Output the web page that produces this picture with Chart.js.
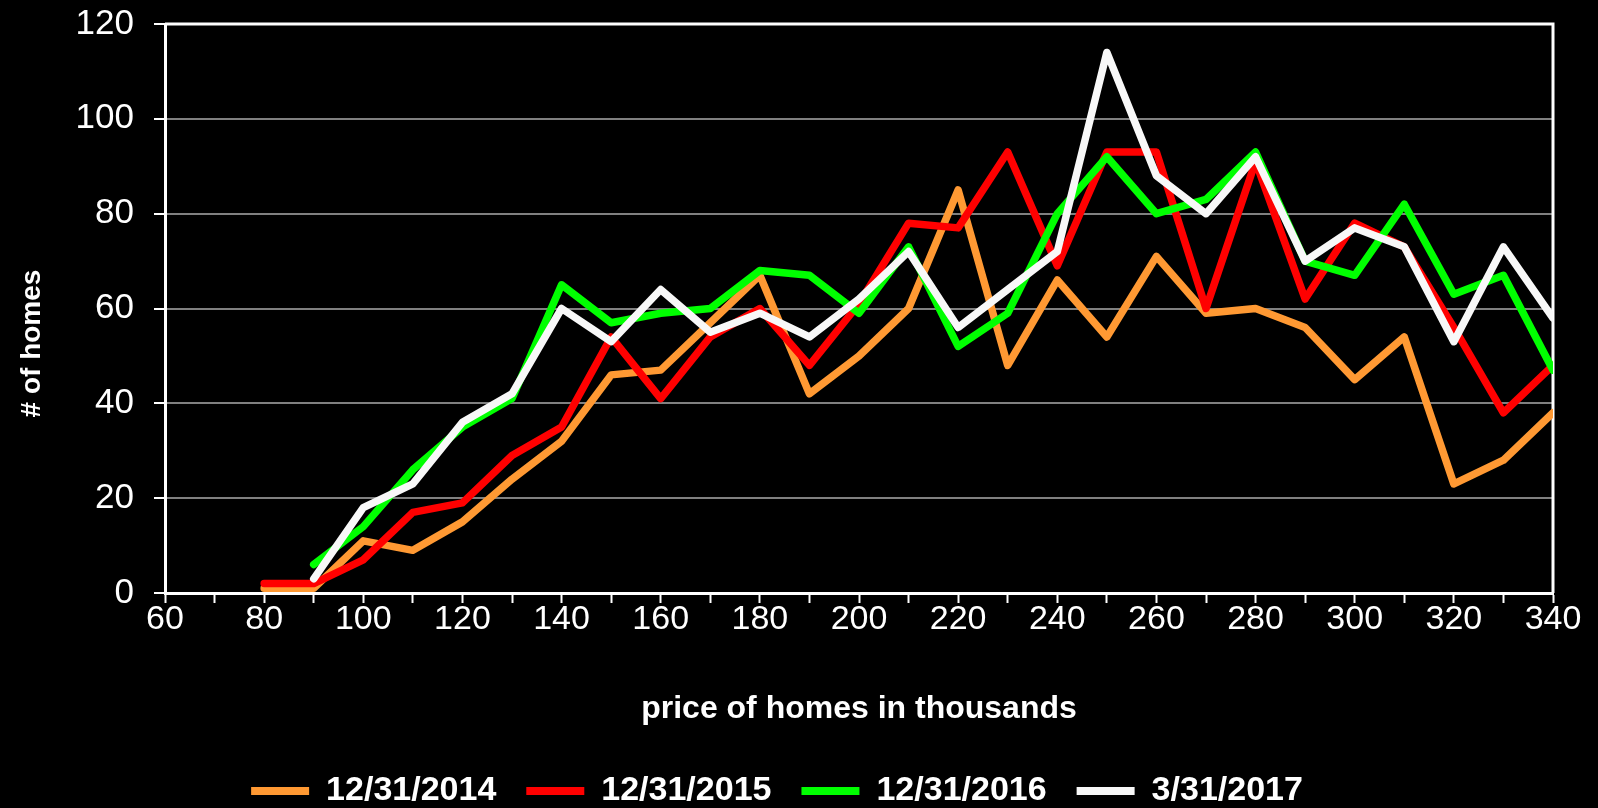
<!DOCTYPE html>
<html>
<head>
<meta charset="utf-8">
<script src="https://cdn.jsdelivr.net/npm/chart.js@4.4.0/dist/chart.umd.min.js"></script>
<style>
  html, body { margin: 0; padding: 0; background: #000; }
  #wrap { width: 1598px; height: 808px; }
</style>
</head>
<body>
<div id="wrap"><canvas id="homes-chart"></canvas></div>
<script>
// price of homes (thousands)
const prices = [80, 90, 100, 110, 120, 130, 140, 150, 160, 170, 180, 190, 200, 210,
                220, 230, 240, 250, 260, 270, 280, 290, 300, 310, 320, 330, 340]

// # of homes at each price, per snapshot date
const homes_2014 = [1, 1, 11, 9, 15, 24, 32, 46, 47, 57, 67, 42, 50, 60,
                    85, 48, 66, 54, 71, 59, 60, 56, 45, 54, 23, 28, 38]
const homes_2015 = [2, 2, 7, 17, 19, 29, 35, 54, 41, 54, 60, 48, 61, 78,
                    77, 93, 69, 93, 93, 60, 91, 62, 78, 73, 56, 38, 48]
const homes_2016 = [null, 6, 14, 26, 35, 41, 65, 57, 59, 60, 68, 67, 59, 73,
                    52, 59, 80, 92, 80, 83, 93, 70, 67, 82, 63, 67, 47]
const homes_2017 = [null, 3, 18, 23, 36, 42, 60, 53, 64, 55, 59, 54, 62, 72,
                    56, 64, 72, 114, 88, 80, 92, 70, 77, 73, 53, 73, 58]

const series_names = ['12/31/2014', '12/31/2015', '12/31/2016', '3/31/2017']
const series_colors = ['#FF9933', '#FF0000', '#00FF00', '#F8F8F8']
const series_values = [homes_2014, homes_2015, homes_2016, homes_2017]

const font_family = "'Liberation Sans', Arial, sans-serif"

const toPoints = (values) => prices.map((p, i) => ({ x: p, y: values[i] }))

// white top + right border of the plot area
const framePlugin = {
    id: 'frame',
    beforeDatasetsDraw(chart) {
        const { ctx, chartArea } = chart
        ctx.save()
        ctx.strokeStyle = '#ffffff'
        ctx.lineWidth = 3
        ctx.beginPath()
        ctx.moveTo(chartArea.left, chartArea.top)
        ctx.lineTo(chartArea.right, chartArea.top)
        ctx.lineTo(chartArea.right, chartArea.bottom)
        ctx.stroke()
        ctx.restore()
    }
}

const ctx = document.getElementById('homes-chart');
new Chart(ctx, {
    type: 'line',
    data: {
        datasets: series_names.map((name, i) => ({
            label: name,
            data: toPoints(series_values[i]),
            borderColor: series_colors[i],
            backgroundColor: series_colors[i],
            borderWidth: 7.5,
            pointRadius: 0,
            tension: 0,
            borderJoinStyle: 'round',
            borderCapStyle: 'round',
            order: series_names.length - 1 - i
        }))
    },
    options: {
        responsive: true,
        maintainAspectRatio: false,
        animation: false,
        devicePixelRatio: 1,
        layout: {
            padding: { left: 1, right: 45, top: 24, bottom: -10 }
        },
        plugins: {
            tooltip: { enabled: false },
            legend: {
                position: 'bottom',
                labels: {
                    color: '#ffffff',
                    font: { family: font_family, size: 34, weight: 'bold' },
                    boxWidth: 58,
                    boxHeight: 8,
                    padding: 30,
                    generateLabels: (chart) =>
                        Chart.defaults.plugins.legend.labels.generateLabels(chart)
                            .map(l => ({ ...l, lineWidth: 0 }))
                            .sort((a, b) => a.datasetIndex - b.datasetIndex)
                }
            }
        },
        scales: {
            x: {
                type: 'linear',
                min: 60,
                max: 340,
                afterFit: (scale) => { scale.height = 151 },
                ticks: {
                    stepSize: 10,
                    autoSkip: false,
                    maxRotation: 0,
                    padding: -4,
                    color: '#ffffff',
                    font: { family: font_family, size: 34 },
                    callback: (v) => (v % 20 === 0 ? v : '')
                },
                grid: {
                    drawOnChartArea: false,
                    tickLength: 10,
                    tickColor: '#ffffff',
                    tickWidth: 2,
                    color: '#ffffff'
                },
                border: { color: '#ffffff', width: 3 },
                title: {
                    display: true,
                    text: 'price of homes in thousands',
                    color: '#ffffff',
                    font: { family: font_family, size: 32, weight: 'bold' },
                    padding: { top: 0, bottom: 16 }
                }
            },
            y: {
                min: 0,
                max: 120,
                afterFit: (scale) => {
                    scale.width = 164
                    scale.paddingTop = 0
                    scale.paddingBottom = 0
                },
                ticks: {
                    stepSize: 20,
                    padding: 20,
                    color: '#ffffff',
                    font: { family: font_family, size: 35 }
                },
                grid: {
                    color: (c) => (c.tick && c.tick.value === 120 ? '#ffffff' : '#808080'),
                    lineWidth: 2,
                    tickLength: 11,
                    tickColor: '#ffffff',
                    tickWidth: 2
                },
                border: { color: '#ffffff', width: 3 },
                title: {
                    display: true,
                    // trailing spaces push the text a little below the axis centre, as in the original
                    text: '# of homes         ',
                    color: '#ffffff',
                    font: { family: font_family, size: 28, weight: 'bold' },
                    padding: { top: 14, bottom: 0 }
                }
            }
        }
    },
    plugins: [framePlugin]
});
</script>
</body>
</html>
